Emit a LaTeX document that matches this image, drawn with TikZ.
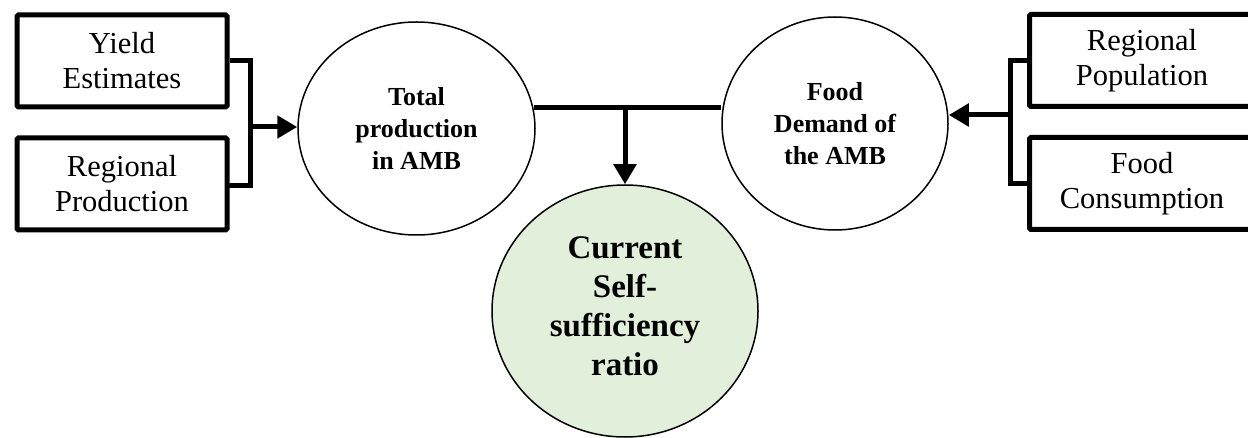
\documentclass[tikz,border=0pt]{standalone}
\usepackage{fontspec}
\setmainfont{Liberation Serif}
\usetikzlibrary{shapes.geometric,arrows.meta}
\definecolor{ratiogreen}{RGB}{226,239,218}
\begin{document}
\begin{tikzpicture}[x=1pt,y=-1pt,
  inbox/.style={draw,line width=5pt,rectangle,rounded corners=1.5pt,minimum width=210pt,minimum height=92pt,inner sep=0pt,align=center,font=\fontsize{30.5pt}{35pt}\selectfont},
  oval/.style={draw,line width=1.5pt,ellipse,inner sep=0pt,align=center,font=\fontsize{26pt}{32pt}\selectfont\bfseries},
  conn/.style={line width=5pt},
  arr/.style={line width=5pt,-{Triangle[length=20pt,width=22pt]}}]
\useasboundingbox (0,0) rectangle (1248,438);
% input boxes
\node[inbox] (yield) at (122,61) {Yield\\Estimates};
\node[inbox] (regprod) at (122,184) {Regional\\Production};
\node[inbox,minimum width=225pt] (regpop) at (1142,60.5) {Regional\\Population};
\node[inbox,minimum width=225pt] (foodcons) at (1142,183.5) {Food\\Consumption};
% ellipses
\node[oval,minimum width=237pt,minimum height=213pt] (total) at (416.5,128.5) {Total\\production\\in AMB};
\node[oval,minimum width=226pt,minimum height=213pt] (food) at (835,123.5) {Food\\Demand of\\the AMB};
\node[oval,fill=ratiogreen,minimum width=266pt,minimum height=252pt,font=\fontsize{33pt}{39pt}\selectfont\bfseries] (ratio) at (625,311) {Current\\Self-\\sufficiency\\ratio\rule[-10pt]{0pt}{10pt}};
% left bracket
\coordinate (jL) at (250,127);
\draw[conn] (yield.east) -| (jL |- yield.east) |- (regprod.east |- 0,186) -- (regprod.east);
\draw[arr] (jL) -- (jL -| total.west);
% right bracket
\coordinate (jR) at (1010,115);
\draw[conn] (regpop.west) -| (jR |- regpop.west) |- (foodcons.west);
\draw[arr] (jR) -- (jR -| food.east);
% joining line and drop
\draw[conn] (total.10) -- (food.west |- total.10);
\draw[arr] (total.10 -| ratio.north) -- (ratio.north);
\end{tikzpicture}
\end{document}
